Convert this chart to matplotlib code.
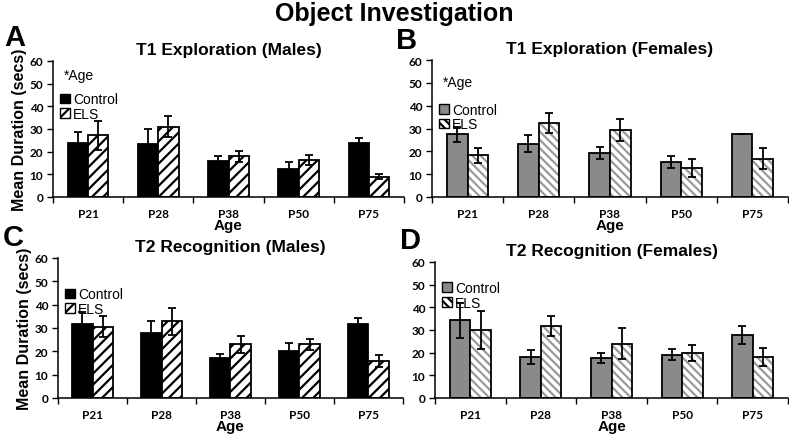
import matplotlib.pyplot as plt
from matplotlib.patches import Patch
import numpy as np

plt.rcParams['font.family'] = ['Liberation Sans', 'DejaVu Sans']
plt.rcParams['hatch.linewidth'] = 1.6

ages = ['P21', 'P28', 'P38', 'P50', 'P75']

# T1 exploration, males
t1_m_ctrl = [24.0, 23.5, 16.0, 12.3, 24.0]
t1_m_ctrl_err = [4.5, 6.3, 2.3, 3.0, 2.0]
t1_m_els = [27.2, 31.0, 17.9, 16.5, 9.0]
t1_m_els_err = [6.3, 4.7, 2.6, 2.2, 1.2]

# T1 exploration, females
t1_f_ctrl = [27.5, 23.3, 19.3, 15.2, 27.5]
t1_f_ctrl_err = [3.2, 3.8, 2.8, 2.6, 0.0]
t1_f_els = [18.2, 32.3, 29.2, 12.8, 16.8]
t1_f_els_err = [3.1, 4.3, 4.8, 4.0, 4.6]

# T2 recognition, males
t2_m_ctrl = [31.7, 28.0, 17.0, 20.2, 31.7]
t2_m_ctrl_err = [5.0, 5.0, 2.0, 3.3, 2.5]
t2_m_els = [30.5, 32.8, 23.0, 23.0, 15.7]
t2_m_els_err = [4.5, 5.8, 3.7, 2.3, 2.6]

# T2 recognition, females
t2_f_ctrl = [34.2, 18.2, 17.7, 19.0, 27.7]
t2_f_ctrl_err = [7.6, 3.0, 2.3, 2.4, 3.9]
t2_f_els = [30.0, 31.7, 24.0, 20.0, 18.0]
t2_f_els_err = [8.2, 4.3, 6.8, 3.6, 4.0]

W, H = 789, 439


def px_rect(x0, y0, x1, y1):
    # pixel box (top-left origin) -> figure fraction
    return [x0 / W, 1 - y1 / H, (x1 - x0) / W, (y1 - y0) / H]


def panel(ax, ctrl, ctrl_err, els, els_err, female, leg_top, age_y, ylabel, title):
    x = np.arange(len(ages))
    bw = 0.29
    if female:
        ctrl_col = '#8a8a8a'
        hatch = '\\\\\\\\'
        hatch_col = '#9a9a9a'
    else:
        ctrl_col = 'black'
        hatch = '///'
        hatch_col = 'black'
    ax.bar(x - bw / 2, ctrl, bw, color=ctrl_col, edgecolor='black', linewidth=1.3, zorder=2)
    ax.bar(x + bw / 2, els, bw, color='white', edgecolor=hatch_col, hatch=hatch, linewidth=0, zorder=2)
    ax.bar(x + bw / 2, els, bw, color='none', edgecolor='black', linewidth=1.3, zorder=3)
    ax.errorbar(x - bw / 2, ctrl, yerr=ctrl_err, fmt='none', ecolor='black', elinewidth=1.3,
                capsize=3, capthick=1.3, zorder=4)
    ax.errorbar(x + bw / 2, els, yerr=els_err, fmt='none', ecolor='black', elinewidth=1.3,
                capsize=3, capthick=1.3, zorder=4)

    ax.set_xlim(-0.5, len(ages) - 0.5)
    ax.set_ylim(0, 60)
    ax.set_yticks(range(0, 61, 10))
    ax.set_xticks(x)
    ax.set_xticklabels(ages, fontweight='bold', fontsize=8.5, family=['Lato', 'DejaVu Sans'])
    ax.set_xticks(np.arange(-0.5, len(ages)), minor=True)
    ax.tick_params(axis='x', which='major', length=0, pad=8)
    ax.tick_params(axis='x', which='minor', length=4, width=1, direction='out')
    ax.tick_params(axis='y', length=4, width=1, labelsize=8.5, pad=3)
    for lab in ax.get_yticklabels():
        lab.set_fontweight('bold')
        lab.set_family(['Lato', 'DejaVu Sans'])
    for s in ['top', 'right']:
        ax.spines[s].set_visible(False)
    for s in ['left', 'bottom']:
        ax.spines[s].set_linewidth(1.1)
    ax.set_xlabel('Age', fontsize=11, fontweight='bold', labelpad=-1)
    if ylabel:
        ax.set_ylabel('Mean Duration (secs)', fontsize=11.5, fontweight='bold', labelpad=2)
    ax.set_title(title, fontsize=12.5, fontweight='bold', pad=5)

    if female:
        h_els = Patch(facecolor='white', edgecolor='#9a9a9a', hatch='\\\\\\\\')
    else:
        h_els = Patch(facecolor='white', edgecolor='black', hatch='///')
    h_ctrl = Patch(facecolor=ctrl_col, edgecolor='black')
    leg = ax.legend([h_ctrl, h_els], ['Control', 'ELS'], loc='upper left',
                    bbox_to_anchor=(0.0, leg_top), frameon=False, fontsize=10,
                    handlelength=0.7, handleheight=0.7, handletextpad=0.25,
                    labelspacing=0.05, borderpad=0.2, borderaxespad=0.3)
    for p in leg.get_patches():
        p.set_edgecolor('black')
    if age_y is not None:
        ax.text(0.03, age_y, '*Age', transform=ax.transAxes, fontsize=10, va='center')


fig = plt.figure(figsize=(W / 100, H / 100), dpi=100)

axA = fig.add_axes(px_rect(53, 62, 404, 198))
axB = fig.add_axes(px_rect(432, 61, 788, 198))
axC = fig.add_axes(px_rect(58, 259, 403, 399))
axD = fig.add_axes(px_rect(435, 263, 788, 399))

panel(axA, t1_m_ctrl, t1_m_ctrl_err, t1_m_els, t1_m_els_err, False, 0.82, 0.9,
      True, 'T1 Exploration (Males)')
panel(axB, t1_f_ctrl, t1_f_ctrl_err, t1_f_els, t1_f_els_err, True, 0.74, 0.84,
      False, 'T1 Exploration (Females)')
panel(axC, t2_m_ctrl, t2_m_ctrl_err, t2_m_els, t2_m_els_err, False, 0.84, None,
      True, 'T2 Recognition (Males)')
panel(axD, t2_f_ctrl, t2_f_ctrl_err, t2_f_els, t2_f_els_err, True, 0.91, None,
      False, 'T2 Recognition (Females)')

fig.text(394 / W, 1 - 14 / H, 'Object Investigation', ha='center', va='center',
         fontsize=18, fontweight='bold')

for letter, lx, ly in [('A', 15, 38), ('B', 407, 41), ('C', 13, 238), ('D', 411, 241)]:
    fig.text(lx / W, 1 - ly / H, letter, ha='center', va='center', fontsize=21, fontweight='bold')

fig.savefig('out.png', dpi=100)
